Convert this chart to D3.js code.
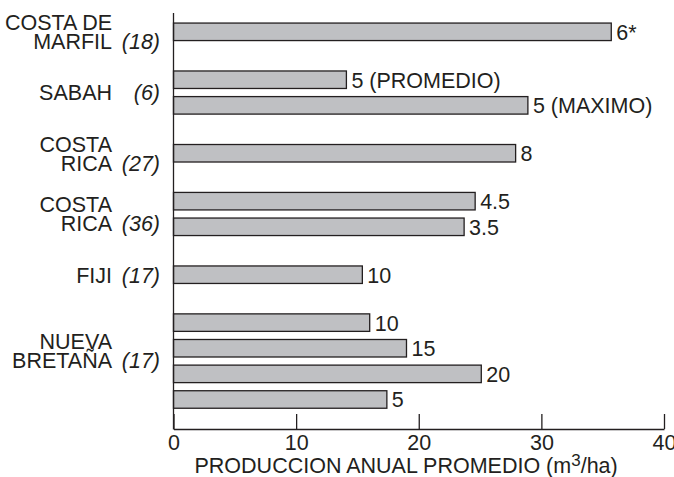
<!DOCTYPE html>
<html>
<head>
<meta charset="utf-8">
<script src="https://cdn.jsdelivr.net/npm/d3@7"></script>
<style>
  body { margin: 0; background: #fff; }
  svg text { font-family: "Liberation Sans", Arial, Helvetica, sans-serif; fill: #231f20; }
</style>
</head>
<body>
<svg id="chart" width="674" height="477"></svg>
<script>
// grupos (país, referencia) y barras de cada grupo
const groupNames = [["COSTA DE", "MARFIL"], ["SABAH"], ["COSTA", "RICA"], ["COSTA", "RICA"], ["FIJI"], ["NUEVA", "BRETAÑA"]];
const groupRefs = ["(18)", "(6)", "(27)", "(36)", "(17)", "(17)"];
const barGroup = [0, 1, 1, 2, 3, 3, 4, 5, 5, 5, 5];
const barValues = [35.7, 14.1, 28.9, 27.9, 24.6, 23.7, 15.4, 16.0, 19.0, 25.1, 17.4];
const barLabels = ["6*", "5 (PROMEDIO)", "5 (MAXIMO)", "8", "4.5", "3.5", "10", "10", "15", "20", "5"];
const xTicks = [0, 10, 20, 30, 40];

const svg = d3.select("#chart");
const fs = 21.5;

const groupGap = 0.87; // espacio extra entre grupos (en filas)
const rowPos = barGroup.map((g, i) => i + g * groupGap);
const nRows = rowPos[rowPos.length - 1] + 1;

var x = d3.scaleLinear()
    .domain([0, 40])
    .range([173.5, 664]);

var y = d3.scaleLinear()
    .domain([0, nRows])
    .range([19, 412.3]);

const step = y(1) - y(0);
const barH = 17.5;

// barras
svg.append("g")
    .selectAll("rect")
    .data(barValues)
    .join("rect")
    .attr("x", x(0))
    .attr("y", (d, i) => y(rowPos[i]) + (step - barH) / 2)
    .attr("width", d => x(d) - x(0))
    .attr("height", barH)
    .attr("fill", "#bfc0c3")
    .attr("stroke", "#231f20")
    .attr("stroke-width", 1.3);

// valores al lado de cada barra
svg.append("g")
    .attr("font-size", fs)
    .selectAll("text")
    .data(barValues)
    .join("text")
    .attr("x", d => x(d) + 5)
    .attr("y", (d, i) => y(rowPos[i] + 0.5))
    .attr("dy", "0.37em")
    .text((d, i) => barLabels[i]);

// etiquetas de grupo
const lineH = 19;
groupNames.forEach(function(lines, g) {
    var idx = barGroup.map((b, i) => b === g ? i : -1).filter(i => i >= 0);
    var center = (y(rowPos[idx[0]]) + y(rowPos[idx[idx.length - 1]] + 1)) / 2;
    if (idx.length > 2) center -= 10;
    var firstBase = center - (lines.length - 1) * lineH / 2 + 7.8;
    var t = svg.append("g").attr("font-size", fs);
    lines.forEach(function(line, k) {
        t.append("text")
            .attr("x", 112)
            .attr("y", firstBase + k * lineH)
            .attr("text-anchor", "end")
            .text(line);
    });
    t.append("text")
        .attr("x", 160)
        .attr("y", firstBase + (lines.length - 1) * lineH)
        .attr("text-anchor", "end")
        .attr("font-style", "italic")
        .text(groupRefs[g]);
});

// eje X con marcas hacia adentro
var xAxis = d3.axisBottom(x)
    .tickValues(xTicks)
    .tickSizeInner(-15)
    .tickSizeOuter(0)
    .tickPadding(6)
    .tickFormat(d3.format("d"));

var gx = svg.append("g")
    .attr("transform", "translate(0,429)")
    .call(xAxis);
gx.selectAll("text").attr("font-size", fs).attr("font-family", null).attr("fill", null);
gx.selectAll("line, path").attr("stroke", "#231f20").attr("stroke-width", 1.3);

// eje Y (solo la línea)
svg.append("line")
    .attr("x1", x(0)).attr("x2", x(0))
    .attr("y1", 13).attr("y2", 429.6)
    .attr("stroke", "#231f20")
    .attr("stroke-width", 1.3);

// título del eje
var title = svg.append("text")
    .attr("x", x(0) + 21)
    .attr("y", 473)
    .attr("font-size", fs);
title.append("tspan").text("PRODUCCION ANUAL PROMEDIO (m");
title.append("tspan").attr("font-size", 17).attr("dy", -7).text("3");
title.append("tspan").attr("dy", 7).text("/ha)");
</script>
</body>
</html>
